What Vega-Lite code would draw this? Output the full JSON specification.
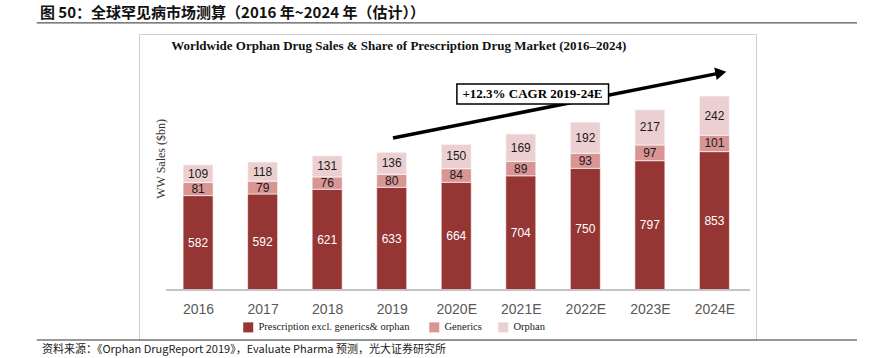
{
  "$schema": "https://vega.github.io/schema/vega-lite/v6.json",
  "width": 617,
  "height": 306,
  "autosize": {"type": "none"},
  "padding": {"left": 139, "top": 34, "right": 117, "bottom": 18},
  "background": "white",
  "config": {"view": {"stroke": "#cfcfcf", "strokeWidth": 1}},
  "datasets": {
    "sales": [
      {"idx": 0, "year": "2016", "cat": "Prescription  excl. generics& orphan", "rank": 1, "value": 582},
      {"idx": 0, "year": "2016", "cat": "Generics", "rank": 2, "value": 81},
      {"idx": 0, "year": "2016", "cat": "Orphan", "rank": 3, "value": 109},
      {"idx": 1, "year": "2017", "cat": "Prescription  excl. generics& orphan", "rank": 1, "value": 592},
      {"idx": 1, "year": "2017", "cat": "Generics", "rank": 2, "value": 79},
      {"idx": 1, "year": "2017", "cat": "Orphan", "rank": 3, "value": 118},
      {"idx": 2, "year": "2018", "cat": "Prescription  excl. generics& orphan", "rank": 1, "value": 621},
      {"idx": 2, "year": "2018", "cat": "Generics", "rank": 2, "value": 76},
      {"idx": 2, "year": "2018", "cat": "Orphan", "rank": 3, "value": 131},
      {"idx": 3, "year": "2019", "cat": "Prescription  excl. generics& orphan", "rank": 1, "value": 633},
      {"idx": 3, "year": "2019", "cat": "Generics", "rank": 2, "value": 80},
      {"idx": 3, "year": "2019", "cat": "Orphan", "rank": 3, "value": 136},
      {"idx": 4, "year": "2020E", "cat": "Prescription  excl. generics& orphan", "rank": 1, "value": 664},
      {"idx": 4, "year": "2020E", "cat": "Generics", "rank": 2, "value": 84},
      {"idx": 4, "year": "2020E", "cat": "Orphan", "rank": 3, "value": 150},
      {"idx": 5, "year": "2021E", "cat": "Prescription  excl. generics& orphan", "rank": 1, "value": 704},
      {"idx": 5, "year": "2021E", "cat": "Generics", "rank": 2, "value": 89},
      {"idx": 5, "year": "2021E", "cat": "Orphan", "rank": 3, "value": 169},
      {"idx": 6, "year": "2022E", "cat": "Prescription  excl. generics& orphan", "rank": 1, "value": 750},
      {"idx": 6, "year": "2022E", "cat": "Generics", "rank": 2, "value": 93},
      {"idx": 6, "year": "2022E", "cat": "Orphan", "rank": 3, "value": 192},
      {"idx": 7, "year": "2023E", "cat": "Prescription  excl. generics& orphan", "rank": 1, "value": 797},
      {"idx": 7, "year": "2023E", "cat": "Generics", "rank": 2, "value": 97},
      {"idx": 7, "year": "2023E", "cat": "Orphan", "rank": 3, "value": 217},
      {"idx": 8, "year": "2024E", "cat": "Prescription  excl. generics& orphan", "rank": 1, "value": 853},
      {"idx": 8, "year": "2024E", "cat": "Generics", "rank": 2, "value": 101},
      {"idx": 8, "year": "2024E", "cat": "Orphan", "rank": 3, "value": 242}
    ],
    "arrow": [
      {"px": 3.02, "py": 937},
      {"px": 8.08, "py": 1337}
    ]
  },
  "layer": [
    {
      "data": {"name": "sales"},
      "transform": [
        {"stack": "value", "groupby": ["idx"], "sort": [{"field": "rank", "order": "ascending"}], "as": ["y0", "y1"]}
      ],
      "mark": {"type": "bar", "width": 30, "stroke": "white", "strokeWidth": 0.6},
      "encoding": {
        "x": {
          "field": "idx", "type": "quantitative",
          "scale": {"domain": [-0.838, 8.567], "nice": false, "zero": false},
          "axis": {
            "values": [0, 1, 2, 3, 4, 5, 6, 7, 8],
            "labelExpr": "['2016','2017','2018','2019','2020E','2021E','2022E','2023E','2024E'][datum.value]",
            "offset": -50, "domain": false, "ticks": false, "grid": false, "title": null,
            "labelPadding": 12, "labelFont": "Liberation Sans Narrow, Liberation Sans", "labelFontSize": 14,
            "labelColor": "#595959", "labelFlush": false
          }
        },
        "y": {
          "field": "y0", "type": "quantitative",
          "scale": {"domain": [-308, 1578], "nice": false, "zero": false},
          "axis": null
        },
        "y2": {"field": "y1"},
        "color": {
          "field": "cat", "type": "nominal",
          "scale": {"domain": ["Prescription  excl. generics& orphan", "Generics", "Orphan"], "range": ["#953634", "#d99594", "#ecd0d1"]},
          "legend": {
            "title": null, "orient": "none", "direction": "horizontal", "legendX": 104, "legendY": 288,
            "symbolType": "square", "symbolSize": 100, "symbolStrokeWidth": 0, "padding": 0,
            "labelFont": "Liberation Serif", "labelFontSize": 10.5, "labelColor": "#222", "labelOffset": 5,
            "labelLimit": 300, "columnPadding": 16
          }
        }
      }
    },
    {
      "data": {"name": "sales"},
      "transform": [
        {"stack": "value", "groupby": ["idx"], "sort": [{"field": "rank", "order": "ascending"}], "as": ["y0", "y1"]},
        {"calculate": "(datum.y0 + datum.y1) / 2", "as": "ymid"}
      ],
      "mark": {"type": "text", "font": "Liberation Sans Narrow, Liberation Sans", "fontSize": 12, "baseline": "middle", "align": "center"},
      "encoding": {
        "x": {"field": "idx", "type": "quantitative"},
        "y": {"field": "ymid", "type": "quantitative"},
        "text": {"field": "value", "type": "quantitative"},
        "color": {"condition": {"test": "datum.rank == 1", "value": "white"}, "value": "#1a1a1a"}
      }
    },
    {
      "data": {"values": [{}]},
      "mark": {"type": "rule", "color": "#c4c4c4", "strokeWidth": 2},
      "encoding": {"x": {"datum": -0.5}, "x2": {"datum": 8.55}, "y": {"datum": 0}}
    },
    {
      "data": {"name": "arrow"},
      "mark": {"type": "line", "color": "black", "strokeWidth": 3.5},
      "encoding": {"x": {"field": "px", "type": "quantitative"}, "y": {"field": "py", "type": "quantitative"}}
    },
    {
      "data": {"values": [{}]},
      "mark": {"type": "point", "shape": "triangle-right", "filled": true, "color": "black", "size": 160, "angle": 349, "opacity": 1},
      "encoding": {"x": {"datum": 8.1}, "y": {"datum": 1339}}
    },
    {
      "data": {"values": [{}]},
      "mark": {"type": "rect", "fill": "white", "stroke": "black", "strokeWidth": 1.5},
      "encoding": {"x": {"datum": 4.01}, "x2": {"datum": 6.36}, "y": {"datum": 1147}, "y2": {"datum": 1270}}
    },
    {
      "data": {"values": [{}]},
      "mark": {"type": "text", "text": "+12.3% CAGR 2019-24E", "font": "Liberation Serif", "fontWeight": "bold", "fontSize": 13, "color": "black", "align": "center", "baseline": "middle"},
      "encoding": {"x": {"datum": 5.18}, "y": {"datum": 1208}}
    },
    {
      "data": {"values": [{}]},
      "mark": {"type": "text", "text": "Worldwide Orphan Drug Sales & Share of Prescription Drug Market (2016–2024)", "font": "Liberation Serif", "fontWeight": "bold", "fontSize": 13, "color": "#111", "align": "center", "baseline": "middle"},
      "encoding": {"x": {"datum": 3.11}, "y": {"datum": 1504}}
    },
    {
      "data": {"values": [{}]},
      "mark": {"type": "text", "text": "WW Sales ($bn)", "font": "Liberation Serif", "fontSize": 12, "color": "#333", "align": "center", "baseline": "middle", "angle": 270},
      "encoding": {"x": {"datum": -0.58}, "y": {"datum": 808}}
    },
    {
      "data": {"values": [{}]},
      "mark": {"type": "text", "text": "图 50：全球罕见病市场测算（2016 年~2024 年（估计））", "font": "Noto Sans CJK SC", "fontWeight": "bold", "fontSize": 15, "color": "#111", "align": "left", "baseline": "middle"},
      "encoding": {"x": {"datum": -2.45}, "y": {"datum": 1707}}
    },
    {
      "data": {"values": [{}]},
      "mark": {"type": "text", "text": "资料来源：《Orphan DrugReport 2019》，Evaluate Pharma 预测，光大证券研究所", "font": "Noto Sans CJK SC", "fontSize": 11, "color": "#222", "align": "left", "baseline": "middle"},
      "encoding": {"x": {"datum": -2.42}, "y": {"datum": -370}}
    },
    {
      "data": {"values": [{}]},
      "mark": {"type": "rule", "color": "#555", "strokeWidth": 1.2},
      "encoding": {"x": {"datum": -2.5}, "x2": {"datum": 10.21}, "y": {"datum": 1646}}
    },
    {
      "data": {"values": [{}]},
      "mark": {"type": "rule", "color": "#777", "strokeWidth": 1.5},
      "encoding": {"x": {"datum": -2.5}, "x2": {"datum": 10.21}, "y": {"datum": -308}}
    }
  ]
}
